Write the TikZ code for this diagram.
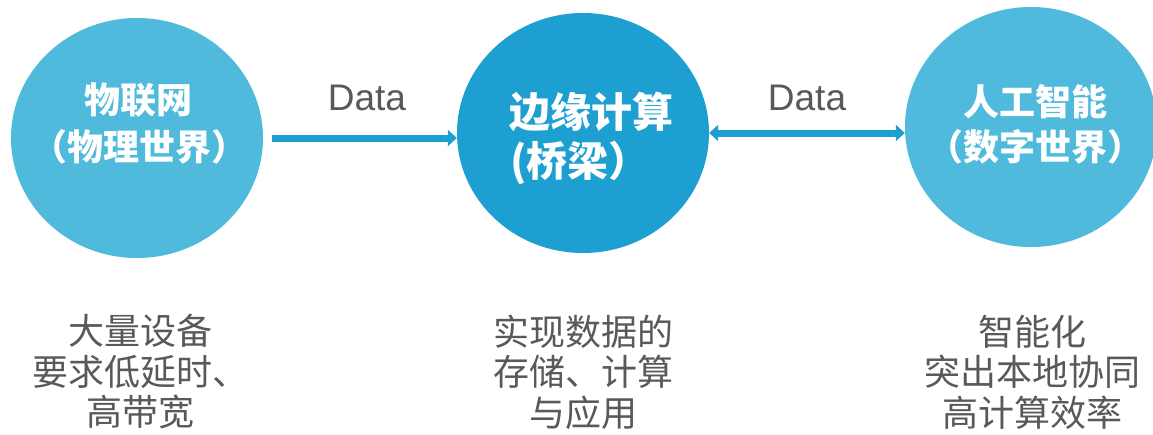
\documentclass[tikz,border=0pt]{standalone}
\usepackage{fontspec}
\setmainfont{Liberation Sans}
\newfontfamily\cjk{Noto Sans CJK SC}
\usetikzlibrary{shapes.geometric,arrows.meta}
\definecolor{lightblue}{HTML}{4FBADB}
\definecolor{darkblue}{HTML}{1E9FD2}
\definecolor{txtgray}{HTML}{595959}
\tikzset{
  bubble/.style={ellipse, minimum width=252pt, minimum height=240pt, inner sep=0pt, draw=none},
  title/.style={text=white, font=\cjk\bfseries\fontsize{36}{40}\selectfont, inner sep=0pt},
  bigtitle/.style={text=white, font=\cjk\bfseries\fontsize{41}{46}\selectfont, inner sep=0pt},
  desc/.style={text=txtgray, font=\cjk\fontsize{36}{40.5}\selectfont, align=center, inner sep=0pt},
  datalbl/.style={text=txtgray, font=\fontsize{37}{40}\selectfont, inner sep=0pt},
  flow/.style={draw=darkblue, line width=7pt, arrows={-Triangle[width=16pt,length=9pt]}},
  flow2/.style={draw=darkblue, line width=7pt, arrows={Triangle[width=16pt,length=9pt]-Triangle[width=16pt,length=9pt]}}
}
\begin{document}
\begin{tikzpicture}[x=1pt,y=-1pt]
\useasboundingbox[fill=white] (0,0) rectangle (1153,434);
% bubbles
\node[bubble, fill=lightblue] (L) at (137,138) {};
\node[bubble, fill=darkblue] (M) at (583,133) {};
\node[bubble, fill=lightblue] (R) at (1031,127) {};
% titles
\node[title] (L1) at (138,100) {物联网};
\node[title] (L2) at (139,147) {（物理世界）};
\node[bigtitle] (M1) at (591,112) {边缘计算};
\node[bigtitle] (M2) at (580,163) {(桥梁）};
\node[title] (R1) at (1035,102) {人工智能};
\node[title] (R2) at (1035,147) {（数字世界）};
% connectors
\draw[flow, shorten <=9pt] (L.east) -- (L.east -| M.west);
\draw[flow2] (M.east) -- (M.east -| R.west);
\node[datalbl] (D1) at (367,98) {Data};
\node[datalbl] (D2) at (807,98) {Data};
% descriptions
\node[desc] (LD) at (140,372) {大量设备\\要求低延时、\\高带宽};
\node[desc] (MD) at (583,372) {实现数据的\\存储、计算\\与应用};
\node[desc] (RD) at (1032,372) {智能化\\突出本地协同\\高计算效率};
\end{tikzpicture}
\end{document}
